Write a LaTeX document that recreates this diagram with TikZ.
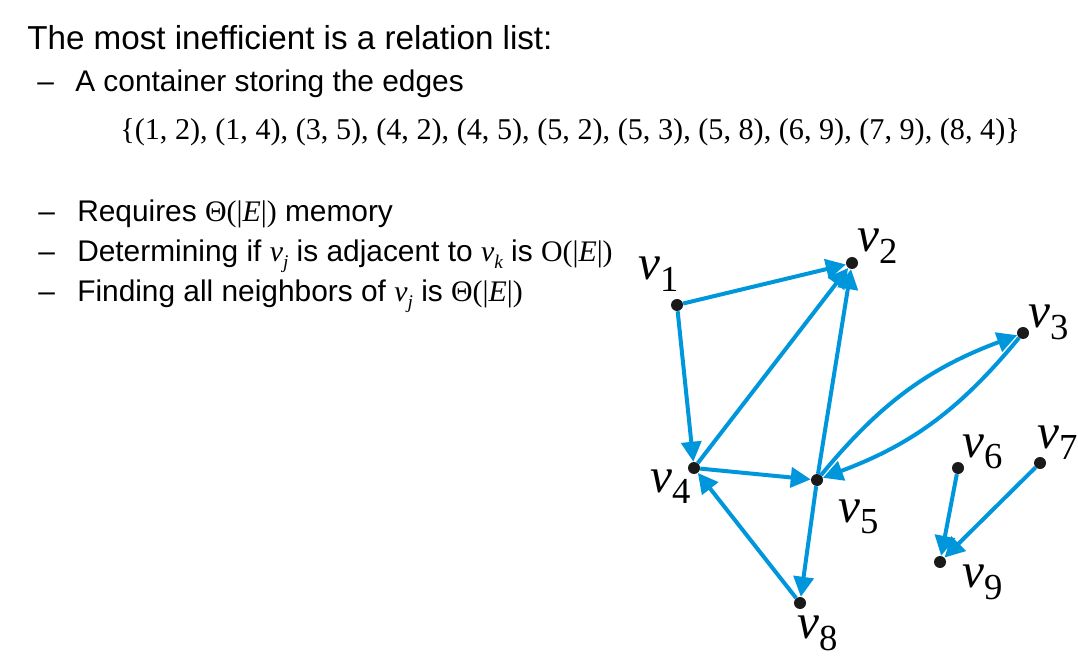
\documentclass[tikz,border=0pt]{standalone}
\usepackage{fontspec}
\setmainfont{Liberation Sans}
\newfontfamily\tms{Liberation Serif}
\usetikzlibrary{arrows.meta}
\definecolor{eblue}{RGB}{0,150,220}
\definecolor{vdot}{RGB}{26,26,26}
\newcommand\tvar[1]{{\tms\itshape v}\raisebox{-0.22em}{\tms\itshape\fontsize{14.5}{15}\selectfont #1}}
\newcommand\vlab[1]{{\tms\itshape\fontsize{37}{40}\selectfont v}\raisebox{-9pt}{\tms\fontsize{27.5}{30}\selectfont #1}}
\begin{document}
\begin{tikzpicture}[x=0.75pt,y=-0.75pt,
  vtx/.style={circle,fill=vdot,inner sep=0pt,minimum size=9pt},
  edge/.style={eblue,line width=3pt,-{Triangle[length=15pt,width=15pt]}},
  lab/.style={anchor=base west,inner sep=0pt},
  txt/.style={anchor=base west,inner sep=0pt,font=\fontsize{22.4}{27}\selectfont}]
\useasboundingbox (0,0) rectangle (1078,666);
% text
\node[lab,font=\fontsize{24.9}{30}\selectfont] (t0) at (27,50) {The most inefficient is a relation list:};
\node[txt] (d1) at (37,92) {–};
\node[txt] (t1) at (75,92) {A container storing the edges};
\node[txt,font=\fontsize{22.65}{27}\selectfont] (t2) at (120,140) {\tms \{(1, 2), (1, 4), (3, 5), (4, 2), (4, 5), (5, 2), (5, 3), (5, 8), (6, 9), (7, 9), (8, 4)\}};
\node[txt] (d2) at (38,222) {–};
\node[txt] (t3) at (77,222) {Requires {\tms Θ(|\textit{E}|)} memory};
\node[txt] (d3) at (38,262) {–};
\node[txt] (t4) at (77,262) {Determining if \tvar{j} is adjacent to \tvar{k} is {\tms O(|\textit{E}|)}};
\node[txt] (d4) at (38,302) {–};
\node[txt] (t5) at (77,302) {Finding all neighbors of \tvar{j} is {\tms Θ(|\textit{E}|)}};
% vertices
\node[vtx] (v1) at (677,305) {};
\node[vtx] (v2) at (852,263) {};
\node[vtx] (v3) at (1023,333) {};
\node[vtx] (v4) at (694,468) {};
\node[vtx] (v5) at (817,480) {};
\node[vtx] (v6) at (958,468) {};
\node[vtx] (v7) at (1040,463) {};
\node[vtx] (v8) at (800,603) {};
\node[vtx] (v9) at (940,562) {};
% labels
\node[lab] (l1) at (638,280) {\vlab{1}};
\node[lab] (l2) at (857,252) {\vlab{2}};
\node[lab] (l3) at (1028,328) {\vlab{3}};
\node[lab] (l4) at (650,492) {\vlab{4}};
\node[lab] (l5) at (838,522) {\vlab{5}};
\node[lab] (l6) at (962,457) {\vlab{6}};
\node[lab] (l7) at (1037,448) {\vlab{7}};
\node[lab] (l8) at (797,638) {\vlab{8}};
\node[lab] (l9) at (962,587) {\vlab{9}};
% edges
\draw[edge] (v1) -- (v2);
\draw[edge] (v1) -- (v4);
\draw[edge] (v3) to[bend left=15] (v5);
\draw[edge] (v4) -- (v2);
\draw[edge] (v4) -- (v5);
\draw[edge] (v5) -- (v2);
\draw[edge] (v5) to[bend left=15] (v3);
\draw[edge] (v5) -- (v8);
\draw[edge] (v6) -- (v9);
\draw[edge] (v7) -- (v9);
\draw[edge] (v8) -- (v4);
\end{tikzpicture}
\end{document}
